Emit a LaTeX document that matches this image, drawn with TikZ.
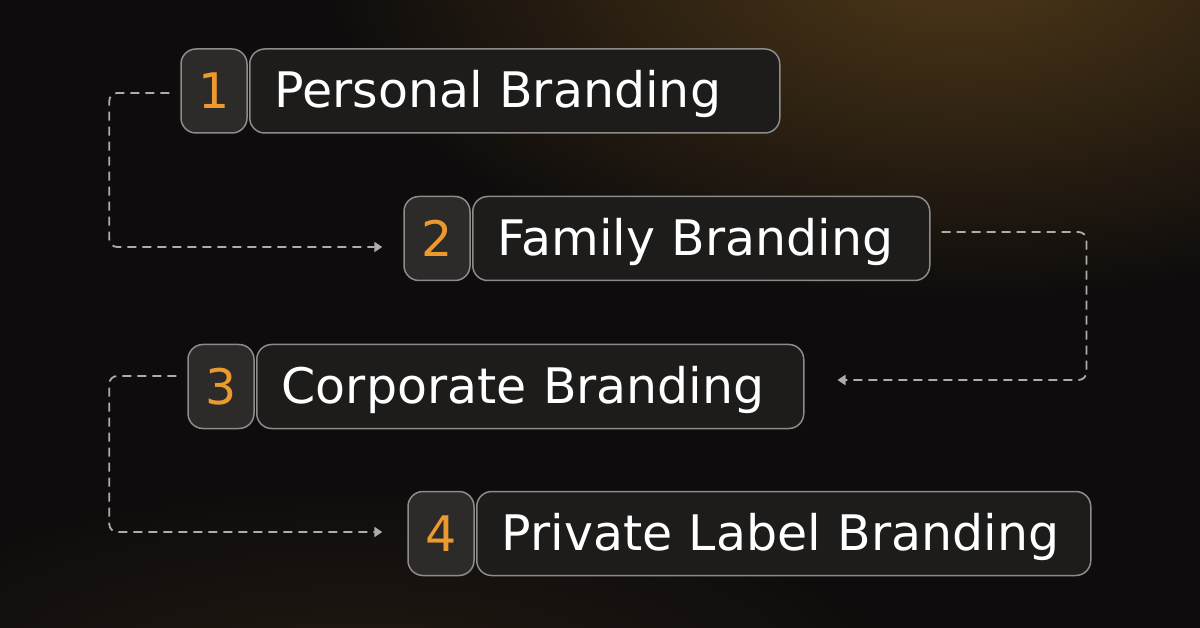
\documentclass[tikz,border=0pt]{standalone}
\usepackage{fontspec}
\setmainfont{DejaVu Sans}
\usetikzlibrary{arrows.meta}
\definecolor{bgc}{HTML}{0E0C0C}
\definecolor{glowc}{HTML}{4E3818}
\definecolor{lowglowc}{HTML}{231A12}
\definecolor{edgec}{HTML}{8E8C8A}
\definecolor{numfill}{HTML}{2C2B2A}
\definecolor{boxfill}{HTML}{1D1C1B}
\definecolor{numc}{HTML}{EC9A30}
\definecolor{linkc}{HTML}{ADADAD}
\tikzset{
  numbox/.style={draw=edgec, line width=1.5pt, fill=numfill, rounded corners=15pt,
    minimum width=66pt, minimum height=84pt, inner sep=0pt, text=numc,
    font=\fontsize{49}{60}\selectfont},
  labelbox/.style={draw=edgec, line width=1.5pt, fill=boxfill, rounded corners=15pt,
    minimum height=84pt, inner xsep=25pt, inner ysep=0pt, anchor=west, align=left,
    text=white, text height=36pt, text depth=2pt, font=\fontsize{49}{60}\selectfont},
  link/.style={draw=linkc, line width=1.8pt, dash pattern=on 9pt off 6pt,
    rounded corners=8pt, -{Triangle[length=8pt,width=10pt]}}
}
\begin{document}
\begin{tikzpicture}[x=1pt,y=-1pt]
      \useasboundingbox (0,0) rectangle (1200,628);
      \begin{scope}
        \clip (0,0) rectangle (1200,628);
        \fill[bgc] (0,0) rectangle (1200,628);
        \shade[inner color=lowglowc, outer color=bgc] (360,700) ellipse (560 and 220);
        \shade[inner color=glowc, outer color=bgc] (960,-40) ellipse (640 and 340);
      \end{scope}
      \draw
        (214,91) node[numbox] (n1){1}
        (437,238.5) node[numbox] (n2){2}
        (221,386.5) node[numbox] (n3){3}
        (441,533.5) node[numbox] (n4){4};
      \draw
        (249,91) node[labelbox, text width=480pt] (l1){Personal Branding}
        (472,238.5) node[labelbox, text width=407pt] (l2){Family Branding}
        (256,386.5) node[labelbox, text width=497pt] (l3){Corporate Branding}
        (476,533.5) node[labelbox, text width=564pt] (l4){Private Label Branding};
      \begin{scope}[link]
        \draw[shorten <=11pt, shorten >=21pt] ([yshift=-2pt]n1.west) -- ++(-71,0) |- ([yshift=-8.5pt]n2.west);
        \draw[shorten <=11pt, shorten >=33pt] ([yshift=6.5pt]l2.east) -- ++(156,0) |- ([yshift=6.5pt]l3.east);
        \draw[shorten <=11pt, shorten >=25pt] ([yshift=10.5pt]n3.west) -- ++(-78,0) |- ([yshift=1.5pt]n4.west);
      \end{scope}
    \end{tikzpicture}
\end{document}
